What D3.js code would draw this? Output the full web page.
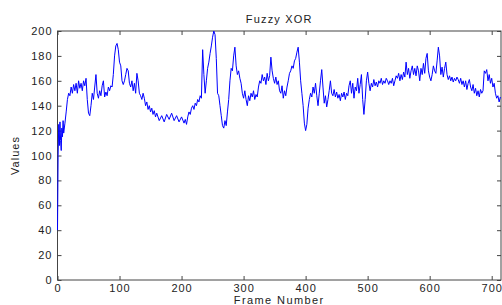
<!DOCTYPE html>
<html>
<head>
<meta charset="utf-8">
<script src="https://cdn.jsdelivr.net/npm/d3@7"></script>
<style>
  body { margin: 0; background: #fff; }
  svg text { font-family: Arial, "Liberation Sans", sans-serif; fill: #222; }
</style>
</head>
<body>
<svg id="chart" width="502" height="305"></svg>
<script>
'use strict';

// values (frame -> value)
const frames = [
  0, 1, 2, 3, 4, 5, 6, 7, 8, 9, 10, 12, 14, 16, 18, 20,
  22, 24, 26, 28, 30, 32, 34, 36, 38, 40, 42, 44, 46, 48, 50, 52, 54, 56, 58, 60,
  62, 64, 66, 68, 70, 72, 74, 76, 78, 80, 82, 84, 86, 88, 90, 92, 94, 96, 98, 100,
  102, 104, 106, 108, 110, 112, 114, 116, 118, 120, 122, 124, 126, 128, 130, 132, 134, 136, 138, 140,
  142, 144, 146, 148, 150, 152, 154, 156, 158, 160, 164, 168, 172, 176, 180, 184, 188, 192, 196, 200,
  204, 206, 208, 210, 212, 214, 216, 218, 220, 222, 224, 226, 228, 230, 232, 234, 236, 238, 240, 242,
  244, 246, 248, 250, 252, 254, 256, 258, 260, 262, 264, 266, 268, 270, 272, 274, 276, 278, 280, 282,
  284, 286, 288, 290, 292, 294, 296, 298, 300, 302, 304, 306, 308, 310, 312, 314, 316, 318, 320, 322,
  324, 326, 328, 330, 332, 334, 336, 338, 340, 342, 344, 346, 348, 350, 352, 354, 356, 358, 360, 362,
  364, 366, 368, 370, 372, 374, 376, 378, 380, 382, 384, 386, 388, 390, 392, 394, 396, 398, 400, 402,
  404, 406, 408, 410, 412, 414, 416, 418, 420, 422, 424, 426, 428, 430, 432, 434, 436, 438, 440, 442,
  444, 446, 448, 450, 452, 454, 456, 458, 460, 462, 464, 466, 468, 470, 472, 474, 476, 478, 480, 482,
  484, 486, 488, 490, 492, 494, 496, 498, 500, 502, 504, 506, 508, 510, 512, 514, 516, 518, 520, 522,
  524, 526, 528, 530, 532, 534, 536, 538, 540, 542, 544, 546, 548, 550, 552, 554, 556, 558, 560, 562,
  564, 566, 568, 570, 572, 574, 576, 578, 580, 582, 584, 586, 588, 590, 592, 594, 596, 598, 600, 602,
  604, 606, 608, 610, 612, 614, 616, 618, 620, 622, 624, 626, 628, 630, 632, 634, 636, 638, 640, 642,
  644, 646, 648, 650, 652, 654, 656, 658, 660, 662, 664, 666, 668, 670, 672, 674, 676, 678, 680, 682,
  684, 686, 688, 690, 692, 694, 696, 698, 700, 702, 704, 706, 708, 710, 712, 714
];
const values = [
  40, 100, 125, 108, 127, 112, 104, 122, 115, 128, 118, 126, 135, 145, 150, 148,
  155, 150, 157, 152, 158, 150, 160, 154, 158, 152, 160, 156, 162, 145, 134, 132, 140, 150, 145, 155,
  165, 150, 146, 152, 148, 156, 160, 147, 151, 148, 155, 152, 156, 155, 165, 180, 188, 190, 185, 175,
  172, 160, 157, 160, 165, 170, 168, 158, 155, 160, 152, 158, 150, 166, 160, 150, 148, 145, 150, 146,
  140, 143, 137, 140, 135, 138, 133, 136, 131, 134, 128, 132, 127, 133, 129, 134, 128, 132, 127, 131,
  126, 129, 125, 131, 135, 133, 138, 140, 137, 142, 140, 145, 143, 148, 146, 185, 165, 150, 160, 170,
  175, 182, 188, 195, 200, 197, 178, 150, 148, 140, 132, 124, 122, 128, 124, 135, 145, 160, 170, 168,
  180, 187, 172, 165, 168, 162, 158, 150, 146, 152, 145, 140, 148, 144, 150, 147, 152, 145, 149, 147,
  155, 160, 158, 165, 160, 163, 157, 166, 160, 164, 179, 168, 162, 158, 163, 157, 160, 152, 150, 156,
  146, 152, 148, 155, 160, 166, 168, 172, 170, 176, 178, 183, 187, 175, 160, 150, 140, 126, 120, 125,
  138, 145, 150, 147, 155, 150, 158, 148, 140, 150, 160, 169, 155, 142, 148, 139, 145, 152, 160, 150,
  148, 153, 147, 151, 146, 149, 144, 150, 147, 151, 145, 150, 148, 156, 160, 150, 158, 146, 155, 152,
  162, 150, 157, 165, 145, 133, 145, 160, 167, 158, 152, 158, 155, 161, 156, 159, 155, 160, 158, 162,
  157, 160, 158, 162, 160, 157, 160, 158, 162, 156, 160, 164, 162, 166, 160, 165, 161, 167, 163, 175,
  165, 170, 162, 168, 172, 165, 170, 164, 172, 168, 160, 170, 165, 174, 166, 178, 182, 168, 163, 160,
  165, 172, 168, 166, 176, 187, 180, 165, 171, 163, 170, 175, 165, 161, 164, 160, 163, 159, 162, 160,
  163, 161, 158, 162, 157, 160, 155, 160, 153, 158, 161, 155, 152, 157, 150, 154, 148, 152, 147, 153,
  150, 152, 168, 166, 169, 160, 165, 158, 162, 155, 158, 150, 146, 148, 143, 147
];
const xTicks = [0, 100, 200, 300, 400, 500, 600, 700];
const yTicks = [0, 20, 40, 60, 80, 100, 120, 140, 160, 180, 200];

const svg = d3.select('#chart');
const plotLeft = 57.5, plotRight = 501, plotTop = 31, plotBottom = 280;

const x = d3.scaleLinear().domain([0, 715]).range([plotLeft, plotRight]);
const y = d3.scaleLinear().domain([0, 200]).range([plotBottom, plotTop]);

// box
svg.append('rect')
  .attr('x', plotLeft).attr('y', plotTop)
  .attr('width', plotRight - plotLeft).attr('height', plotBottom - plotTop)
  .attr('fill', 'none').attr('stroke', '#444').attr('stroke-width', 1);

// inward ticks on all four sides
const axisStyle = function(g) {
  g.select('.domain').remove();
  g.selectAll('.tick line').attr('stroke', '#444');
  g.selectAll('.tick text')
    .attr('font-size', '11px')
    .attr('letter-spacing', '1px')
    .attr('fill', '#222');
};

svg.append('g')
  .attr('transform', 'translate(0,' + plotBottom + ')')
  .call(d3.axisBottom(x).tickValues(xTicks).tickSizeInner(-4).tickPadding(4))
  .call(axisStyle);

svg.append('g')
  .attr('transform', 'translate(0,' + plotTop + ')')
  .call(d3.axisTop(x).tickValues(xTicks).tickSizeInner(-4).tickFormat(''))
  .call(axisStyle);

svg.append('g')
  .attr('transform', 'translate(' + plotLeft + ',0)')
  .call(d3.axisLeft(y).tickValues(yTicks).tickSizeInner(-4).tickPadding(5))
  .call(axisStyle);

svg.append('g')
  .attr('transform', 'translate(' + plotRight + ',0)')
  .call(d3.axisRight(y).tickValues(yTicks).tickSizeInner(-4).tickFormat(''))
  .call(axisStyle);

// the series
let points = frames.map(function(f, i) { return [f, values[i]]; });
let line = d3.line()
  .x(function(d) { return x(d[0]); })
  .y(function(d) { return y(d[1]); });

svg.append('path')
  .datum(points)
  .attr('d', line)
  .attr('fill', 'none')
  .attr('stroke', '#0000ff')
  .attr('stroke-width', 1);

// labels
svg.append('text')
  .attr('x', (plotLeft + plotRight) / 2).attr('y', 23)
  .attr('text-anchor', 'middle')
  .attr('font-size', '11px')
  .attr('letter-spacing', '1.2px')
  .text('Fuzzy XOR');

svg.append('text')
  .attr('x', (plotLeft + plotRight) / 2).attr('y', 304)
  .attr('text-anchor', 'middle')
  .attr('font-size', '11px')
  .attr('letter-spacing', '1.4px')
  .text('Frame Number');

svg.append('text')
  .attr('transform', 'translate(19,' + (plotTop + plotBottom) / 2 + ') rotate(-90)')
  .attr('text-anchor', 'middle')
  .attr('font-size', '11px')
  .attr('letter-spacing', '1px')
  .text('Values');
</script>
</body>
</html>
